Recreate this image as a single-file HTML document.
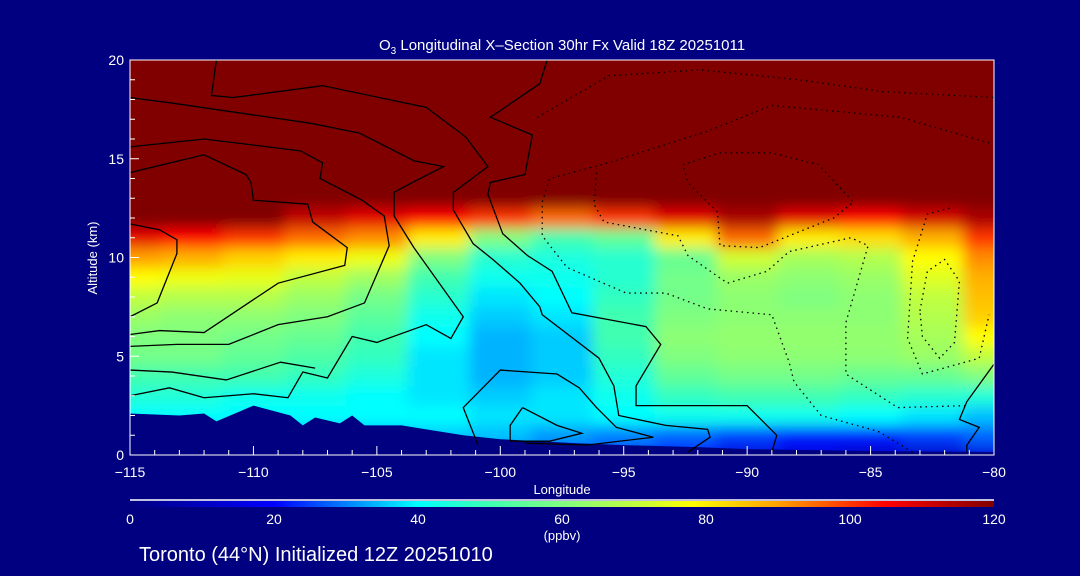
<!DOCTYPE html>
<html><head><meta charset="utf-8">
<style>
html,body{margin:0;padding:0;background:#000080;}
svg{display:block;}
text{font-family:"Liberation Sans",sans-serif;fill:#fff;}
</style></head>
<body>
<svg id="chart" width="1080" height="576" viewBox="0 0 1080 576">
<defs>
<clipPath id="plotClip"><rect x="130" y="60" width="864" height="395"/></clipPath>
<filter id="smooth" x="0" y="0" width="1" height="1"><feGaussianBlur stdDeviation="7" edgeMode="duplicate"/></filter>
<linearGradient id="cbar" x1="0" x2="1" y1="0" y2="0">
<stop offset="0" stop-color="#000080"/><stop offset="0.167" stop-color="#0000ff"/>
<stop offset="0.25" stop-color="#0080ff"/><stop offset="0.333" stop-color="#00ffff"/>
<stop offset="0.417" stop-color="#40ffb0"/><stop offset="0.5" stop-color="#80ff80"/>
<stop offset="0.583" stop-color="#c0ff40"/><stop offset="0.65" stop-color="#ffff00"/>
<stop offset="0.75" stop-color="#ffa000"/><stop offset="0.875" stop-color="#ff0000"/>
<stop offset="1" stop-color="#800000"/></linearGradient>
</defs>
<rect x="0" y="0" width="1080" height="576" fill="#000080"/>
<g id="heat" clip-path="url(#plotClip)"><g id="heatInner" filter="url(#smooth)"></g></g>
<g id="terrain" clip-path="url(#plotClip)"></g>
<g id="contours" clip-path="url(#plotClip)"></g>
<rect x="130" y="60" width="864" height="395" fill="none" stroke="#fff" stroke-width="1"/>
<g id="axes"></g>
<text x="562" y="50" text-anchor="middle" font-size="15">O<tspan font-size="10" dy="4">3</tspan><tspan dy="-4"> Longitudinal X–Section 30hr  Fx Valid 18Z 20251011</tspan></text>
<text x="562" y="494" text-anchor="middle" font-size="13">Longitude</text>
<text transform="translate(97,258) rotate(-90)" text-anchor="middle" font-size="13">Altitude (km)</text>
<line x1="130" y1="500" x2="994" y2="500" stroke="#fff" stroke-width="1.5"/>
<rect x="130" y="501" width="864" height="6" fill="url(#cbar)"/>
<g id="cbLabels"></g>
<text x="562" y="540" text-anchor="middle" font-size="13">(ppbv)</text>
<text x="139" y="561" font-size="20">Toronto (44°N) Initialized 12Z 20251010</text>
</svg>
<script>
const lons=[-115,-112.5,-110,-107.5,-105,-102.5,-100,-97.5,-95,-92.5,-90,-87.5,-85,-82.5,-80];
const alts=[0,1,2,3,4,5,6,7,8,9,10,11,12,13,14,20];
const o3=[
[30,30,30,30,30,30,30,28,25,20,15,15,12,12,15],
[35,35,35,35,35,36,35,32,30,28,25,22,22,25,28],
[40,40,40,40,40,40,38,38,40,42,42,42,40,38,35],
[45,45,42,42,40,38,36,38,42,48,50,50,48,46,45],
[50,50,50,48,44,38,34,36,45,55,58,58,56,56,60],
[58,58,55,52,48,38,34,36,48,60,62,62,62,64,70],
[60,60,58,56,50,40,34,36,50,62,63,63,63,66,78],
[64,62,62,60,54,42,36,38,50,60,62,62,62,68,84],
[70,68,68,64,58,46,38,40,48,58,62,60,62,70,86],
[78,76,75,70,65,50,42,42,46,58,64,62,64,74,88],
[90,88,84,80,76,60,46,44,46,56,72,66,68,78,92],
[108,105,100,95,92,80,60,50,55,80,95,80,82,88,100],
[130,125,120,112,108,105,100,95,100,108,115,108,105,110,115],
[130,130,130,130,125,125,120,120,120,122,125,125,125,125,125],
[130,130,130,130,130,130,130,130,130,130,130,130,130,130,130],
[130,130,130,130,130,130,130,130,130,130,130,130,130,130,130]];
const terrainLon=[-115,-113,-112,-111.5,-110,-108.5,-108,-107.5,-106.5,-106,-105.5,-104,-103,-101.5,-100,-97,-95,-92,-90,-85,-80];
const terrainAlt=[2.1,2.0,2.1,1.7,2.5,2.0,1.5,1.9,1.6,2.0,1.5,1.5,1.3,1.0,0.8,0.6,0.5,0.4,0.3,0.2,0.15];
const xTicks=[-115,-110,-105,-100,-95,-90,-85,-80];
const yTicks=[0,5,10,15,20];
const cbTicks=[0,20,40,60,80,100,120];
const solidContours=[
[[-115,18.1],[-113.2,17.8],[-107.7,16.8],[-105.7,16.3],[-103.5,14.9],[-102.3,14.6],[-103.4,13.9],[-104.3,13.3],[-104.3,12.1],[-103.5,10.5],[-102.3,8.4],[-101.5,7.0],[-102.0,5.9],[-103.0,6.6],[-105.0,5.7],[-106.0,6.0],[-107.0,3.9],[-108.0,4.2],[-108.6,2.9],[-110,3.1],[-112,2.9],[-113.4,3.4],[-115,3.0]],
[[-111.5,20],[-111.7,18.2],[-110.8,18.1],[-107.2,18.7],[-103.0,17.6],[-101.4,16.1],[-100.5,14.6],[-101.9,13.3],[-101.9,12.4],[-101.1,10.7],[-100.3,9.9],[-99.2,8.7],[-98.4,7.5],[-98.3,7.1],[-96.0,4.9],[-95.4,3.5],[-95.2,2.0],[-93.3,1.5],[-91.6,1.3],[-91.5,0.9],[-92.4,0.15]],
[[-98.1,20],[-98.4,18.8],[-100.4,17.1],[-98.7,16.2],[-99.0,14.2],[-100.4,13.8],[-100.5,13.2],[-99.9,11.2],[-98.9,10.1],[-97.9,9.3],[-97.1,7.2],[-94.1,6.5],[-93.5,5.6],[-94.5,3.5],[-94.5,2.5],[-90.0,2.5],[-88.8,1.0],[-89.0,0.15]],
[[-115,11.7],[-113.8,11.4],[-113.1,10.9],[-113.1,10.2],[-113.9,7.7],[-115,7.0]],
[[-115,14.3],[-112.0,15.2],[-110.3,14.2],[-110.1,13.8],[-110.0,12.9],[-107.8,12.7],[-107.6,11.8],[-106.2,10.5],[-106.3,9.6],[-109.0,8.7],[-110.8,7.2],[-112.0,6.2],[-113.8,6.3],[-115,6.1]],
[[-115,15.6],[-112.0,16.0],[-108.1,15.4],[-107.2,14.8],[-107.3,14.0],[-105.6,12.9],[-104.7,12.1],[-104.5,10.6],[-105.5,7.7],[-107.0,7.0],[-109.0,6.6],[-111.0,5.6],[-113.1,5.6],[-115,5.5]],
[[-115,4.3],[-113.3,4.2],[-111.1,3.8],[-108.9,4.7],[-107.5,4.4]],
[[-100.9,0.5],[-101.5,2.4],[-100,4.3],[-97.7,4.1],[-96.8,3.4],[-96.1,2.4],[-95.3,1.4],[-93.8,0.9],[-96.5,0.5],[-99,0.6]],
[[-99.1,2.4],[-97.7,1.5],[-96.7,1.1],[-98.0,0.7],[-99.6,0.7],[-99.6,1.5],[-99.1,2.4]],
[[-80,4.6],[-81.1,2.7],[-81.4,1.8],[-80.6,1.4],[-81.1,0.5],[-81.1,0.15]]];
const dottedContours=[
[[-98.5,17.1],[-95.6,19.2],[-91.9,19.5],[-87.9,19.0],[-84.5,18.4],[-80,18.1]],
[[-80.2,15.8],[-83.8,17.1],[-89.0,17.7],[-91.6,16.4],[-95.6,14.8],[-98.0,14.0],[-98.3,12.8],[-98.3,11.1],[-97.3,9.5],[-94.9,8.2],[-93.3,8.2],[-91.6,7.4],[-89.0,7.1],[-88.3,4.7],[-88.1,3.7],[-87.0,2.0],[-84.7,1.2],[-83.3,0.15]],
[[-96.1,14.3],[-96.2,12.7],[-95.8,11.8],[-92.8,11.1],[-92.4,10.1],[-90.8,8.7],[-89.2,9.3],[-88.3,10.3],[-85.8,11.0],[-85.1,10.6],[-86.0,6.7],[-86.0,4.1],[-83.9,2.4],[-81.1,2.5]],
[[-81.8,12.5],[-82.7,12.2],[-83.3,9.8],[-83.5,5.9],[-82.9,4.1],[-80.6,4.9],[-80.2,7.1]],
[[-83.0,7.3],[-82.7,9.3],[-82.0,9.9],[-81.4,8.8],[-81.6,5.7],[-82.2,4.9],[-82.9,6.0],[-83.0,7.3]],
[[-92.6,14.7],[-91.1,15.3],[-89.0,15.3],[-87.1,14.7],[-85.7,12.8],[-86.5,12.0],[-89.5,10.5],[-91.1,10.6],[-91.2,12.3],[-92.4,13.8],[-92.6,14.7]]];

const X0=130,X1=994,Y0=455,Y1=60;
const xs=v=>X0+(v+115)/35*(X1-X0);
const ys=v=>Y0-v/20*(Y0-Y1);
const NS='http://www.w3.org/2000/svg';
const stops=[[0,[0,0,128]],[20,[0,0,255]],[30,[0,128,255]],[40,[0,255,255]],[50,[64,255,176]],[60,[128,255,128]],[70,[192,255,64]],[78,[255,255,0]],[90,[255,160,0]],[105,[255,0,0]],[120,[128,0,0]]];
function color(v){v=Math.max(0,Math.min(120,v));for(let i=1;i<stops.length;i++){if(v<=stops[i][0]){const a=stops[i-1],b=stops[i],t=(v-a[0])/(b[0]-a[0]);const c=a[1].map((q,k)=>Math.round(q+(b[1][k]-q)*t));return `rgb(${c})`;}}return 'rgb(128,0,0)';}
function mk(tag,attrs,parent){const e=document.createElementNS(NS,tag);for(const k in attrs)e.setAttribute(k,attrs[k]);parent.appendChild(e);return e;}
const heat=document.getElementById('heatInner');
for(let r=0;r<alts.length;r++){
 const aLo=r===0?alts[0]-1:(alts[r-1]+alts[r])/2, aHi=r===alts.length-1?alts[r]+1:(alts[r]+alts[r+1])/2;
 for(let c=0;c<lons.length;c++){
  const lLo=c===0?lons[0]-2:(lons[c-1]+lons[c])/2, lHi=c===lons.length-1?lons[c]+2:(lons[c]+lons[c+1])/2;
  const el=mk('rect',{x:xs(lLo),y:ys(aHi),width:xs(lHi)-xs(lLo)+0.5,height:ys(aLo)-ys(aHi)+0.5,fill:color(o3[r][c])},heat);
  
  
 }}
let tp=`M${xs(-115)},${ys(0)} `+terrainLon.map((l,i)=>`L${xs(l)},${ys(terrainAlt[i])}`).join(' ')+` L${xs(-80)},${ys(0)} Z`;
const ter=mk('path',{d:tp,fill:'#000080'},document.getElementById('terrain'));


const cg=document.getElementById('contours');
solidContours.forEach(p=>{const el=mk('polyline',{points:p.map(q=>xs(q[0])+','+ys(q[1])).join(' '),fill:'none',stroke:'#000','stroke-width':1.3},cg);
 
 });
dottedContours.forEach(p=>{const el=mk('polyline',{points:p.map(q=>xs(q[0])+','+ys(q[1])).join(' '),fill:'none',stroke:'#000','stroke-width':1.3,'stroke-dasharray':'1.5 4'},cg);
 
 });
const ax=document.getElementById('axes');
for(let l=-115;l<=-80;l++){const maj=xTicks.includes(l);const el=mk('line',{x1:xs(l),x2:xs(l),y1:Y0,y2:Y0-(maj?9:5),stroke:'#fff','stroke-width':1},ax);
 
 }
xTicks.forEach(l=>{const t=mk('text',{x:xs(l),y:477,'text-anchor':'middle','font-size':14},ax);t.textContent=(l<0?'−':'')+Math.abs(l);
 
 });
for(let a=0;a<=20;a++){const maj=yTicks.includes(a);const el=mk('line',{x1:X0,x2:X0+(maj?9:5),y1:ys(a),y2:ys(a),stroke:'#fff','stroke-width':1},ax);
 
 }
yTicks.forEach(a=>{const t=mk('text',{x:124,y:ys(a)+5,'text-anchor':'end','font-size':14},ax);t.textContent=a;
 
 });
const cb=document.getElementById('cbLabels');
cbTicks.forEach(v=>{const t=mk('text',{x:X0+v/120*(X1-X0),y:524,'text-anchor':'middle','font-size':14},cb);t.textContent=v;
 
 });
</script>
</body></html>
